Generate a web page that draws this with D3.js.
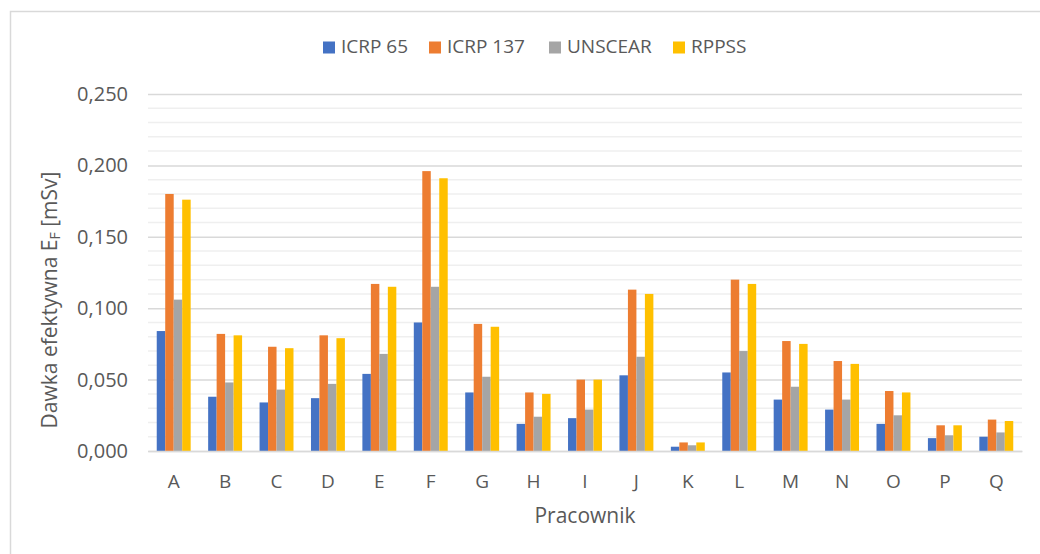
<!DOCTYPE html>
<html>
<head>
<meta charset="utf-8">
<script src="https://cdn.jsdelivr.net/npm/d3@7"></script>
<style>
  body { margin: 0; background: #fff; }
  text { font-family: "Open Sans", sans-serif; fill: #595959; }
</style>
</head>
<body>
<div class="chart"></div>
<script>
// data
const categories = ["A","B","C","D","E","F","G","H","I","J","K","L","M","N","O","P","Q"];
const seriesNames = ["ICRP 65", "ICRP 137", "UNSCEAR", "RPPSS"];
const colors = ["#4472C4", "#ED7D31", "#A5A5A5", "#FFC000"];

const icrp65  = [0.084, 0.038, 0.034, 0.037, 0.054, 0.090, 0.041, 0.019, 0.023, 0.053, 0.003, 0.055, 0.036, 0.029, 0.019, 0.009, 0.010];
const icrp137 = [0.180, 0.082, 0.073, 0.081, 0.117, 0.196, 0.089, 0.041, 0.050, 0.113, 0.006, 0.120, 0.077, 0.063, 0.042, 0.018, 0.022];
const unscear = [0.106, 0.048, 0.043, 0.047, 0.068, 0.115, 0.052, 0.024, 0.029, 0.066, 0.004, 0.070, 0.045, 0.036, 0.025, 0.011, 0.013];
const rppss   = [0.176, 0.081, 0.072, 0.079, 0.115, 0.191, 0.087, 0.040, 0.050, 0.110, 0.006, 0.117, 0.075, 0.061, 0.041, 0.018, 0.021];

const majorTicks = [0, 0.05, 0.10, 0.15, 0.20, 0.25];

const W = 1040, H = 554;
const margin = {top: 94, left: 148, right: 18, bottom: 103};
const width = W - margin.left - margin.right;
const height = H - margin.top - margin.bottom;

const rows = categories.map((c, i) => ({
  cat: c,
  vals: [icrp65[i], icrp137[i], unscear[i], rppss[i]]
}));

const root = d3.select(".chart").append("svg")
    .attr("width", W)
    .attr("height", H);

// chart frame
root.append("rect")
    .attr("x", 10.5).attr("y", 11.5)
    .attr("width", W + 20).attr("height", H + 20)
    .attr("fill", "none")
    .attr("stroke", "#d9d9d9")
    .attr("stroke-width", 1.5);

const svg = root.append("g")
    .attr("transform", `translate(${margin.left},${margin.top})`);

const x0 = d3.scaleBand()
    .domain(categories)
    .range([0, width])
    .paddingInner(0.34)
    .paddingOuter(0.17);

const x1 = d3.scaleBand()
    .domain(d3.range(seriesNames.length))
    .range([0, x0.bandwidth()]);

const y = d3.scaleLinear()
    .domain([0, 0.25])
    .range([height, 0]);

// minor gridlines
svg.append("g")
    .selectAll("line")
    .data(d3.range(1, 25).filter(i => i % 5 !== 0).map(i => i / 100))
    .join("line")
    .attr("x1", 0).attr("x2", width)
    .attr("y1", d => y(d)).attr("y2", d => y(d))
    .attr("stroke", "#efefef")
    .attr("stroke-width", 1.5);

// y axis with major gridlines
const fmt = d => d3.format(".3f")(d).replace(".", ",");
const yAxis = svg.append("g")
    .attr("class", "axis y-axis")
    .call(d3.axisLeft(y).tickValues(majorTicks).tickSize(-width).tickPadding(20).tickFormat(fmt));
yAxis.select(".domain").remove();
yAxis.selectAll(".tick line")
    .attr("stroke", "#d9d9d9")
    .attr("stroke-width", 1.5);
yAxis.selectAll(".tick text")
    .style("font-size", "20px")
    .style("font-family", "'Open Sans', sans-serif")
    .attr("fill", "#595959");

// bars
const groups = svg.selectAll(".grp")
    .data(rows)
    .join("g")
    .attr("class", "grp")
    .attr("transform", d => `translate(${x0(d.cat)},0)`);

groups.selectAll("rect")
    .data(d => d.vals.map((v, i) => ({v, i})))
    .join("rect")
    .attr("class", "bar")
    .attr("x", d => x1(d.i))
    .attr("width", x1.bandwidth())
    .attr("y", d => y(d.v))
    .attr("height", d => height - y(d.v))
    .attr("fill", d => colors[d.i]);

// x axis
const xAxis = svg.append("g")
    .attr("class", "axis x-axis")
    .attr("transform", `translate(0,${height})`)
    .call(d3.axisBottom(x0).tickSize(0).tickPadding(24));
xAxis.select(".domain")
    .attr("stroke", "#d9d9d9")
    .attr("stroke-width", 1.5);
xAxis.selectAll(".tick text")
    .style("font-size", "19px")
    .style("font-family", "'Open Sans', sans-serif")
    .attr("fill", "#595959");

// axis titles
svg.append("text")
    .attr("x", width / 2)
    .attr("y", height + 72)
    .attr("text-anchor", "middle")
    .attr("font-size", 21)
    .text("Pracownik");

const yt = svg.append("text")
    .attr("transform", `translate(${57 - margin.left},${300 - margin.top}) rotate(-90)`)
    .attr("text-anchor", "middle")
    .attr("font-size", 21);
yt.append("tspan").text("Dawka efektywna E");
yt.append("tspan").attr("font-size", 14).attr("dy", 3).text("F");
yt.append("tspan").attr("dy", -3).text(" [mSv]");

// legend
const legendX = [323, 429, 549, 673];
const legend = root.append("g").attr("class", "legend");
const items = legend.selectAll("g")
    .data(seriesNames)
    .join("g")
    .attr("transform", (d, i) => `translate(${legendX[i]},0)`);
items.append("rect")
    .attr("x", 0).attr("y", 41.5)
    .attr("width", 12).attr("height", 12)
    .attr("fill", (d, i) => colors[i]);
items.append("text")
    .attr("x", 18).attr("y", 53)
    .attr("font-size", 19)
    .text(d => d);
</script>
</body>
</html>
